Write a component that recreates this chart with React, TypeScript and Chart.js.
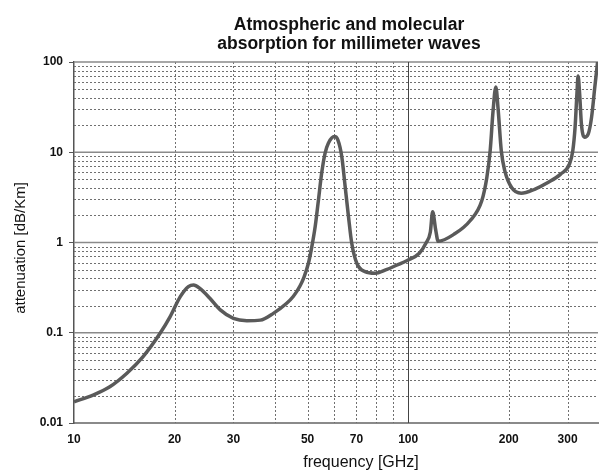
import React, { useEffect, useRef } from "react";
import { Chart, registerables } from "chart.js";

Chart.register(...registerables);

const titleLines = ["Atmospheric and molecular", "absorption for millimeter waves"];
const xAxisTitle = "frequency [GHz]";
const yAxisTitle = "attenuation [dB/Km]";

const frequencyGHz = [
  10, 11.4, 12.8, 14.4, 16.1, 18.1, 19.4, 20.8, 22.0, 22.8, 23.8, 25.5, 27.4, 30.0, 32.9,
  36.1, 39.5, 43.3, 45.3, 47.5, 48.8, 50.3, 51.5, 52.7, 53.9, 55.1, 56.4, 57.7, 60.2, 61.6,
  63.3, 64.8, 66.3, 67.8, 70.2, 74.3, 79.6, 86, 92.3, 100, 108, 113, 116.5, 118.4, 120.9,
  123, 137, 153, 166, 172, 176, 179.6, 183, 186, 190, 194.6, 204, 218, 239, 262, 286, 304,
  311, 316, 320, 322.5, 326, 330, 337, 346, 354, 362, 370,
];

const attenuationDbKm = [
  0.0172, 0.0204, 0.0252, 0.0356, 0.0544, 0.0986, 0.151, 0.251, 0.324, 0.338, 0.31, 0.241,
  0.179, 0.144, 0.136, 0.138, 0.164, 0.212, 0.252, 0.332, 0.414, 0.589, 0.9, 1.5, 2.96, 5.84,
  9.73, 12.6, 14.9, 13.7, 8.93, 4.15, 1.93, 0.98, 0.589, 0.475, 0.456, 0.5, 0.56, 0.64, 0.76,
  0.98, 1.3, 2.19, 1.38, 1.03, 1.23, 1.73, 2.88, 5.26, 10.4, 29.2, 53, 29.2, 10.4, 6.25,
  4.06, 3.51, 3.89, 4.62, 5.73, 7.41, 10.4, 19.1, 44.7, 69.8, 44.7, 20.6, 14.7, 16, 24.5,
  53, 110,
];

const xTickValues = [10, 20, 30, 50, 70, 100, 200, 300];
const yTickValues = [0.01, 0.1, 1, 10, 100];

const xMinorGrid = [20, 30, 40, 50, 60, 70, 80, 90, 200, 300];
const xMajorGrid = [100];
const yMinorGrid = [
  0.02, 0.03, 0.04, 0.05, 0.06, 0.07, 0.08, 0.09,
  0.2, 0.3, 0.4, 0.5, 0.6, 0.7, 0.8, 0.9,
  2, 3, 4, 5, 6, 7, 8, 9,
  20, 30, 40, 50, 60, 70, 80, 90,
];
const yMajorGrid = [0.1, 1, 10, 100];

const FONT = "'Liberation Sans', Arial, Helvetica, sans-serif";

const gridPlugin = {
  id: "logGrid",
  beforeDatasetsDraw(chart: any) {
    const { ctx, chartArea } = chart;
    const { left, right, top, bottom } = chartArea;
    const xs = chart.scales.x;
    const ys = chart.scales.y;
    ctx.save();
    ctx.lineWidth = 1;
    ctx.setLineDash([2, 2]);
    ctx.strokeStyle = "#707070";
    ctx.beginPath();
    yMinorGrid.forEach((v) => {
      const p = Math.round(ys.getPixelForValue(v)) + 0.5;
      ctx.moveTo(left, p);
      ctx.lineTo(right, p);
    });
    xMinorGrid.forEach((v) => {
      const p = Math.round(xs.getPixelForValue(v)) + 0.5;
      ctx.moveTo(p, top);
      ctx.lineTo(p, bottom);
    });
    ctx.stroke();
    ctx.setLineDash([]);
    ctx.strokeStyle = "#8a8a8a";
    ctx.lineWidth = 1.5;
    ctx.beginPath();
    yMajorGrid.forEach((v) => {
      const p = ys.getPixelForValue(v);
      ctx.moveTo(left, p);
      ctx.lineTo(right, p);
    });
    ctx.stroke();
    ctx.strokeStyle = "#444444";
    ctx.lineWidth = 1;
    ctx.beginPath();
    xMajorGrid.forEach((v) => {
      const p = Math.round(xs.getPixelForValue(v)) + 0.5;
      ctx.moveTo(p, top);
      ctx.lineTo(p, bottom);
    });
    ctx.stroke();
    ctx.restore();
  },
  afterDraw(chart: any) {
    const { ctx } = chart;
    ctx.save();
    ctx.fillStyle = "#111111";
    ctx.textAlign = "center";
    ctx.textBaseline = "alphabetic";
    ctx.font = `bold 17.5px ${FONT}`;
    ctx.fillText(titleLines[0], 349, 29.5);
    ctx.fillText(titleLines[1], 349, 49);
    ctx.font = `16px ${FONT}`;
    ctx.fillText(xAxisTitle, 361, 466.5);
    ctx.translate(21, 248);
    ctx.rotate(-Math.PI / 2);
    ctx.textBaseline = "middle";
    ctx.font = `15px ${FONT}`;
    ctx.fillText(yAxisTitle, 0, 0);
    ctx.restore();
  },
};

export default function App() {
  const canvasRef = useRef<HTMLCanvasElement | null>(null);

  useEffect(() => {
    const canvas = canvasRef.current;
    if (!canvas) return;
    const points = frequencyGHz.map((f, i) => ({ x: f, y: attenuationDbKm[i] }));
    const chart = new Chart(canvas, {
      type: "line",
      data: {
        datasets: [
          {
            data: points,
            borderColor: "#5a5a5a",
            borderWidth: 3.5,
            pointRadius: 0,
            fill: false,
            cubicInterpolationMode: "monotone",
          },
        ],
      },
      options: {
        responsive: false,
        animation: false,
        events: [],
        layout: { padding: { top: 62, right: 1, bottom: 0, left: 0 } },
        plugins: {
          legend: { display: false },
          title: { display: false },
          tooltip: { enabled: false },
        },
        scales: {
          x: {
            type: "logarithmic",
            min: 10,
            max: 370,
            afterFit: (scale: any) => {
              scale.height = 47;
            },
            afterBuildTicks: (scale: any) => {
              scale.ticks = xTickValues.map((v) => ({ value: v }));
            },
            grid: { drawOnChartArea: false, drawTicks: false },
            border: { display: true, color: "#8a8a8a", width: 2 },
            ticks: {
              autoSkip: false,
              maxRotation: 0,
              padding: 9,
              color: "#111111",
              font: { family: FONT, size: 12, weight: "bold" },
              callback: (v: any) => String(v),
            },
          },
          y: {
            type: "logarithmic",
            min: 0.01,
            max: 100,
            afterFit: (scale: any) => {
              scale.width = 74;
            },
            afterBuildTicks: (scale: any) => {
              scale.ticks = yTickValues.map((v) => ({ value: v }));
            },
            grid: {
              drawOnChartArea: false,
              drawTicks: true,
              tickLength: 5,
              tickColor: "#555555",
            },
            border: { display: true, color: "#555555", width: 1.5 },
            ticks: {
              autoSkip: false,
              padding: 6,
              color: "#111111",
              font: { family: FONT, size: 12, weight: "bold" },
              callback: (v: any) => String(v),
            },
          },
        },
      },
      plugins: [gridPlugin],
    } as any);
    return () => chart.destroy();
  }, []);

  return (
    <div style={{ position: "absolute", left: 0, top: 0, width: 599, height: 470, background: "#ffffff" }}>
      <canvas ref={canvasRef} width={599} height={470} style={{ display: "block" }} />
    </div>
  );
}
